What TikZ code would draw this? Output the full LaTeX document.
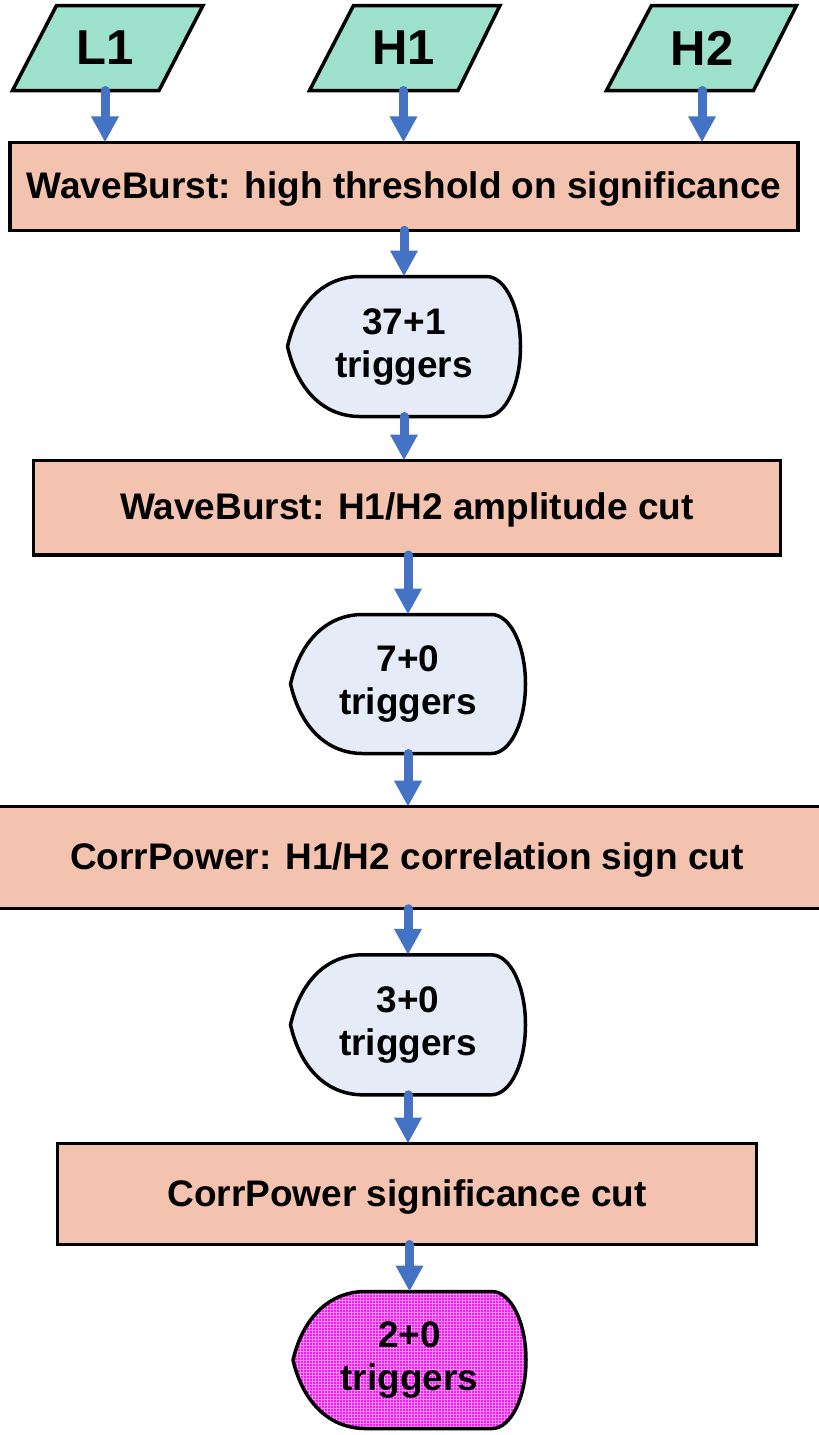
\documentclass[tikz,border=0pt]{standalone}
\usepackage{fontspec}
\setmainfont{Liberation Sans}
\usetikzlibrary{arrows.meta,calc,backgrounds,patterns}
\definecolor{paracol}{HTML}{9DE0CB}
\definecolor{boxcol}{HTML}{F3C3AF}
\definecolor{dispcol}{HTML}{E6ECF7}
\definecolor{arrcol}{HTML}{4472C4}
\definecolor{magcol}{HTML}{FF10FF}
\definecolor{maggrid}{HTML}{FF90FF}
\newcommand\dispoutline[3]{%
  \path[#3] (#1.west) .. controls ($(#1.west)+(11,-#2+22)$) and ($(#1.north west)+(40,0)$) .. ($(#1.north west)+(72,0)$)
    -- ($(#1.north east)+(-34,0)$) arc[start angle=90,end angle=-90,x radius=34pt,y radius=#2pt]
    -- ($(#1.south west)+(72,0)$) .. controls ($(#1.south west)+(40,0)$) and ($(#1.west)+(11,#2-22)$) .. cycle;}
\begin{document}
\begin{tikzpicture}[x=1pt,y=-1pt,
  boxnode/.style={draw=black, line width=3.5pt, fill=boxcol, inner sep=0pt, outer sep=0pt,
    font=\fontsize{37}{42}\selectfont\bfseries, text height=26pt, text depth=2pt},
  disptxt/.style={font=\fontsize{37}{43}\selectfont\bfseries, align=center, inner sep=0pt, outer sep=0pt},
  partxt/.style={font=\fontsize{49}{52}\selectfont\bfseries, inner sep=0pt, outer sep=0pt, minimum height=85pt},
  shapeline/.style={draw=black, line width=3.5pt, line join=miter},
  arr/.style={draw=arrcol, line width=9pt, line cap=round, -{Triangle[width=26pt,length=26pt]}},
]
\useasboundingbox (0,0) rectangle (819,1435);

% input parallelograms
\draw[shapeline, fill=paracol] (56.5,5.5) -- (203,5.5) -- (159,90.5) -- (12.5,90.5) -- cycle;
\draw[shapeline, fill=paracol] (353.5,5.5) -- (500,5.5) -- (458,90.5) -- (309.5,90.5) -- cycle;
\draw[shapeline, fill=paracol] (651.5,5.5) -- (796.5,5.5) -- (753.5,90.5) -- (606.5,90.5) -- cycle;
\node[partxt] (L1) at (105,48) {L1};
\node[partxt] (H1) at (403.5,48) {H1};
\node[partxt] (H2) at (702,48) {H2};

% process boxes
\node[boxnode, minimum width=788pt, minimum height=88pt] (B1) at (404,186.3) {WaveBurst: high threshold on significance};
\node[boxnode, minimum width=747pt, minimum height=94.5pt] (B2) at (407,507.75) {WaveBurst: H1/H2 amplitude cut};
\node[boxnode, minimum width=880pt, minimum height=102pt] (B3) at (407,857.7) {CorrPower: H1/H2 correlation sign cut};
\node[boxnode, minimum width=699pt, minimum height=101pt] (B4) at (407,1194) {CorrPower significance cut};

% trigger count displays
\node[disptxt, minimum width=233pt, minimum height=140pt] (D1) at (404,346.5) {37+1\\triggers};
\node[disptxt, minimum width=235pt, minimum height=139pt] (D2) at (408,684) {7+0\\triggers};
\node[disptxt, minimum width=235pt, minimum height=140pt] (D3) at (408,1024.8) {3+0\\triggers};
\node[disptxt, minimum width=233pt, minimum height=137pt] (D4) at (409.5,1360) {2+0\\triggers};

\begin{scope}[on background layer]
  \dispoutline{D1}{70}{shapeline, fill=dispcol}
  \dispoutline{D2}{69.5}{shapeline, fill=dispcol}
  \dispoutline{D3}{70}{shapeline, fill=dispcol}
  \dispoutline{D4}{68.5}{shapeline, preaction={fill=magcol}, pattern=grid, pattern color=maggrid}
\end{scope}

% connectors
\draw[arr] (L1.south) -- (L1.south |- B1.north);
\draw[arr] (H1.south) -- (H1.south |- B1.north);
\draw[arr] (H2.south) -- (H2.south |- B1.north);
\draw[arr] (B1.south -| D1.north) -- (D1.north);
\draw[arr] (D1.south) -- (D1.south |- B2.north);
\draw[arr] (B2.south -| D2.north) -- (D2.north);
\draw[arr] (D2.south) -- (D2.south |- B3.north);
\draw[arr] (B3.south -| D3.north) -- (D3.north);
\draw[arr] (D3.south) -- (D3.south |- B4.north);
\draw[arr] (B4.south -| D4.north) -- (D4.north);
\end{tikzpicture}
\end{document}
